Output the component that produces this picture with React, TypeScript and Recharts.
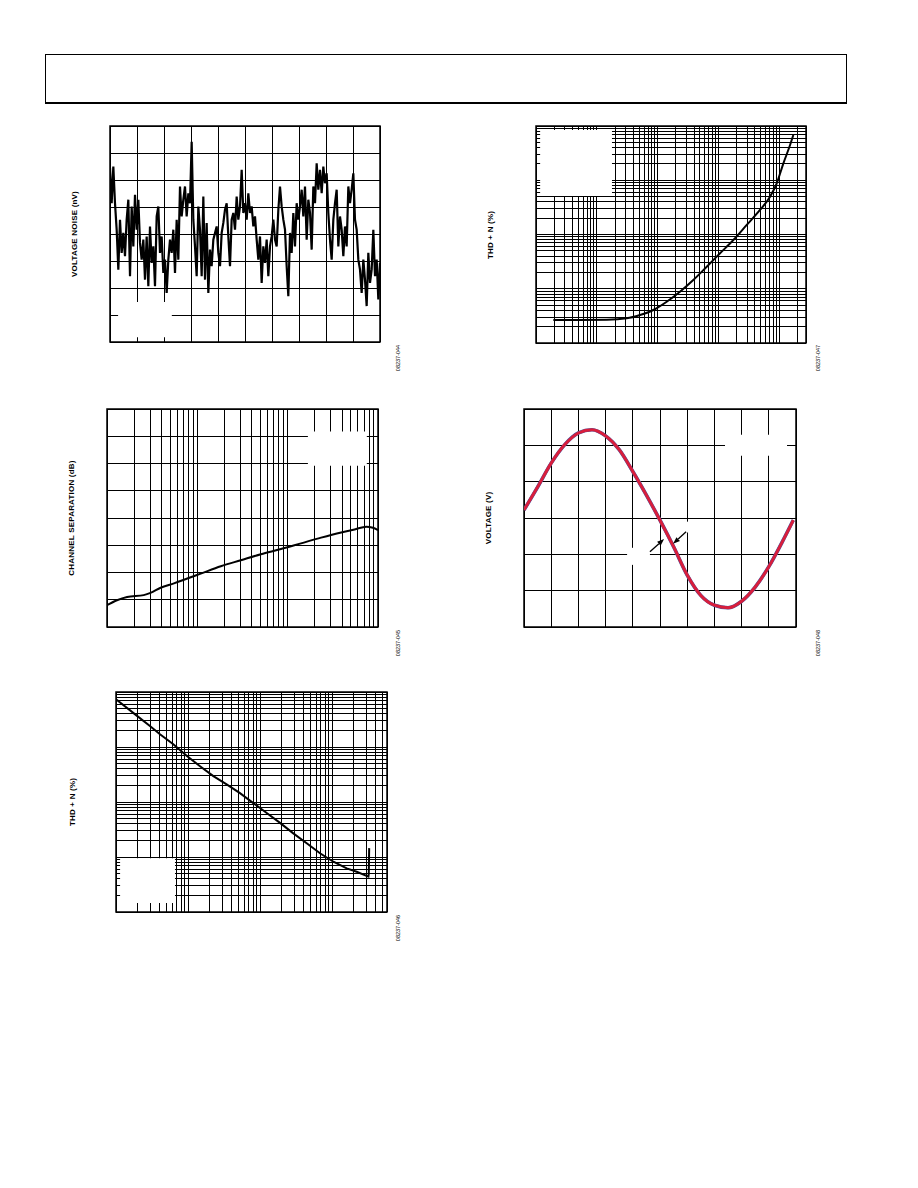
import {
  CartesianGrid,
  Line,
  LineChart,
  ReferenceArea,
  ReferenceLine,
  XAxis,
  YAxis,
} from "recharts";

// voltage noise trace (8 vertical divisions)
const noiseNv = [
  6.44, 5.14, 6.5, 5.14, 4.16, 2.68, 4.53, 3.3, 4.04, 3.18,
  4.53, 5.27, 2.44, 5.02, 3.54, 5.45, 4.16, 5.27, 3.67, 3.05,
  3.79, 2.31, 3.91, 2.07, 4.28, 2.93, 3.54, 2.07, 4.65, 5.02,
  3.3, 3.91, 2.56, 3.05, 1.82, 3.05, 3.79, 3.3, 4.16, 2.56,
  4.53, 3.05, 5.76, 4.65, 5.27, 5.76, 4.65, 5.51, 5.14, 7.42,
  4.53, 3.54, 2.44, 5.02, 4.16, 2.44, 5.39, 2.31, 4.41, 1.82,
  3.42, 2.81, 3.79, 4.04, 4.28, 3.3, 2.81, 4.04, 4.41, 4.9,
  5.14, 3.91, 2.81, 4.53, 4.78, 4.16, 5.39, 4.53, 5.02, 6.38,
  4.78, 5.14, 4.53, 5.51, 4.78, 5.02, 4.28, 4.65, 3.79, 3.05,
  3.91, 2.19, 3.54, 2.93, 3.79, 2.44, 3.54, 3.91, 4.53, 3.79,
  3.54, 4.9, 5.76, 5.02, 4.53, 4.16, 2.81, 1.7, 4.04, 3.3,
  4.78, 3.54, 5.14, 4.53, 5.02, 5.64, 4.65, 5.76, 3.79, 5.27,
  4.78, 3.42, 5.76, 5.14, 6.62, 5.64, 6.38, 5.51, 6.5, 5.88,
  6.25, 4.78, 3.79, 3.05, 4.53, 5.14, 5.64, 3.54, 4.65, 4.16,
  3.18, 4.28, 3.54, 5.76, 5.14, 5.64, 6.25, 4.53, 4.16, 3.05,
  2.68, 1.82, 3.05, 2.31, 1.33, 3.3, 2.19, 2.68, 4.16, 2.44,
  3.05, 1.58, 2.93,
];

// THD + N vs amplitude (upper right)
const thdAmpV = [0.00193, 0.005, 0.0146, 0.0311, 0.0515, 0.0853, 0.1416, 0.234, 0.388, 0.646, 1.069, 1.77, 2.94, 4.86, 7.11, 9.17, 11.8, 15.2, 17.2];
const thdAmpPct = [0.000265, 0.000265, 0.000268, 0.000285, 0.000328, 0.000406, 0.000577, 0.000883, 0.00145, 0.00255, 0.0045, 0.0079, 0.015, 0.0283, 0.0498, 0.0879, 0.205, 0.447, 0.683];

// channel separation vs frequency
const sepFreqHz = [10, 12.9, 16.7, 25.5, 30.3, 39.2, 55.1, 77.4, 109, 182, 303, 506, 843, 1406, 2344, 3917, 5508, 7413, 8790, 10000];
const sepDb = [68, 69.8, 71, 71.7, 72.5, 74.4, 76, 77.8, 79.6, 82.3, 84.5, 86.7, 88.6, 90.7, 92.8, 94.7, 95.8, 96.8, 96.4, 95.6];

// large signal sine response
const sineTimeUs = [0, 0.5, 1, 1.5, 2, 2.5, 3, 3.5, 4, 4.5, 5, 5.5, 6, 6.5, 7, 7.5, 8, 8.5, 9, 9.5, 9.9];
const sineVolts = [0.22, 0.85, 1.51, 2.02, 2.34, 2.43, 2.26, 1.88, 1.28, 0.63, -0.06, -0.79, -1.57, -2.13, -2.4, -2.47, -2.29, -1.9, -1.34, -0.65, -0.06];

// THD + N vs amplitude (lower left)
const thdLowAmpV = [0.001, 0.00194, 0.00296, 0.00408, 0.00625, 0.00957, 0.01469, 0.0225, 0.0344, 0.0527, 0.0807, 0.1239, 0.1897, 0.29, 0.445, 0.681, 1.045, 1.6, 2.2, 3.2, 3.24, 3.28];
const thdLowPct = [0.741, 0.372, 0.24, 0.17, 0.112, 0.0692, 0.0447, 0.0295, 0.0209, 0.0145, 0.00955, 0.00631, 0.00417, 0.00269, 0.00178, 0.00117, 0.00082, 0.00062, 0.00054, 0.00044, 0.0005, 0.00145];

const font = '"Liberation Sans", Arial, sans-serif';
const M = { top: 2, right: 2, bottom: 2, left: 2 };

function logTicks(min: number, max: number) {
  const out: number[] = [];
  for (let e = Math.floor(Math.log10(min)); e <= Math.ceil(Math.log10(max)); e++) {
    for (let k = 1; k <= 9; k++) {
      const v = Number((k * Math.pow(10, e)).toPrecision(6));
      if (v >= min * 0.9999 && v <= max * 1.0001) out.push(v);
    }
  }
  return out;
}

function linTicks(min: number, max: number, step: number) {
  const out: number[] = [];
  for (let v = min; v <= max + 1e-9; v += step) out.push(Number(v.toFixed(6)));
  return out;
}

const noTick = () => <g />;

function ArrowShape(props: any) {
  const { x1, y1, x2, y2 } = props;
  if ([x1, y1, x2, y2].some((v) => v === undefined)) return null;
  const ang = Math.atan2(y2 - y1, x2 - x1);
  const L = 7;
  const W = 2.6;
  const bx = x2 - L * Math.cos(ang);
  const by = y2 - L * Math.sin(ang);
  const px = -Math.sin(ang) * W;
  const py = Math.cos(ang) * W;
  return (
    <g>
      <line x1={x1} y1={y1} x2={bx} y2={by} stroke="#000" strokeWidth={1.3} />
      <polygon points={`${x2},${y2} ${bx + px},${by + py} ${bx - px},${by - py}`} fill="#000" />
    </g>
  );
}

function Axes(p: { xd: [number, number]; yd: [number, number]; xt: number[]; yt: number[]; xlog?: boolean; ylog?: boolean }) {
  return [
    <XAxis
      key="x"
      type="number"
      dataKey="x"
      scale={p.xlog ? "log" : "linear"}
      domain={p.xd}
      ticks={p.xt}
      interval={0}
      allowDataOverflow
      height={0}
      tick={noTick}
      tickLine={false}
      axisLine={false}
    />,
    <YAxis
      key="y"
      type="number"
      scale={p.ylog ? "log" : "linear"}
      domain={p.yd}
      ticks={p.yt}
      interval={0}
      allowDataOverflow
      width={0}
      tick={noTick}
      tickLine={false}
      axisLine={false}
    />,
    <CartesianGrid key="g" stroke="#000" strokeWidth={1} strokeOpacity={1} shapeRendering="crispEdges" />,
  ];
}

function Frame(p: { xd: [number, number]; yd: [number, number] }) {
  return (
    <ReferenceArea
      x1={p.xd[0]}
      x2={p.xd[1]}
      y1={p.yd[0]}
      y2={p.yd[1]}
      fill="#fff"
      fillOpacity={0}
      stroke="#000"
      strokeWidth={1.5}
    />
  );
}

function Blank(p: { x1: number; x2: number; y1: number; y2: number }) {
  return <ReferenceArea {...p} fill="#fff" fillOpacity={1} stroke="none" />;
}

function VText({ x, y, text, size = 8 }: { x: number; y: number; text: string; size?: number }) {
  return (
    <div
      style={{
        position: "absolute",
        left: x,
        top: y,
        transform: "translate(-50%, -50%) rotate(-90deg)",
        whiteSpace: "nowrap",
        fontFamily: font,
        fontSize: size,
        fontWeight: size > 6 ? "bold" : "normal",
        letterSpacing: size > 6 ? 0.2 : 0,
        color: "#000",
        lineHeight: 1,
      }}
    >
      {text}
    </div>
  );
}

function place(left: number, top: number): React.CSSProperties {
  return { position: "absolute", left, top };
}

export default function App() {
  const noiseData = noiseNv.map((v, i) => ({ x: (i * 10) / (noiseNv.length - 1), v }));
  const thdData = thdAmpV.map((x, i) => ({ x, v: thdAmpPct[i] }));
  const sepData = sepFreqHz.map((x, i) => ({ x, v: sepDb[i] }));
  const sineData = sineTimeUs.map((x, i) => ({ x, v: sineVolts[i] }));
  const thdLowData = thdLowAmpV.map((x, i) => ({ x, v: thdLowPct[i] }));

  const nX: [number, number] = [0, 10];
  const nY: [number, number] = [0, 8];
  const tX: [number, number] = [0.001, 27.8];
  const tY: [number, number] = [0.0001, 1];
  const sX: [number, number] = [10, 10000];
  const sY: [number, number] = [60, 140];
  const wX: [number, number] = [0, 10];
  const wY: [number, number] = [-3, 3];
  const lX: [number, number] = [0.001, 5.8];
  const lY: [number, number] = [0.0001, 1];

  return (
    <div style={{ position: "absolute", left: 0, top: 0, width: 918, height: 1188, background: "#fff" }}>
      <div
        style={{
          position: "absolute",
          left: 45,
          top: 54,
          width: 800,
          height: 47,
          borderTop: "1px solid #000",
          borderLeft: "1px solid #000",
          borderRight: "1px solid #000",
          borderBottom: "2px solid #000",
        }}
      />

      {/* voltage noise */}
      <div style={place(108, 124)}>
        <LineChart width={274} height={220} data={noiseData} margin={M}>
          {Axes({ xd: nX, yd: nY, xt: linTicks(0, 10, 1), yt: linTicks(0, 8, 1) })}
          <Blank x1={0.3} x2={2.29} y1={0.18} y2={1.48} />
          <Frame xd={nX} yd={nY} />
          <Line type="linear" dataKey="v" stroke="#000" strokeWidth={2.2} dot={false} isAnimationActive={false} />
        </LineChart>
      </div>
      <VText x={75} y={234} text="VOLTAGE NOISE (nV)" />
      <VText x={399} y={358} text="08237-044" size={5.5} />

      {/* THD + N upper right */}
      <div style={place(534, 124)}>
        <LineChart width={274} height={221} data={thdData} margin={M}>
          {Axes({ xd: tX, yd: tY, xt: logTicks(0.001, 27.8), yt: logTicks(0.0001, 1), xlog: true, ylog: true })}
          <Blank x1={0.00117} x2={0.0178} y1={0.0513} y2={0.84} />
          <Frame xd={tX} yd={tY} />
          <Line type="monotone" dataKey="v" stroke="#000" strokeWidth={2} dot={false} isAnimationActive={false} />
        </LineChart>
      </div>
      <VText x={491} y={235} text="THD + N (%)" />
      <VText x={819} y={358} text="08237-047" size={5.5} />

      {/* channel separation */}
      <div style={place(105, 407)}>
        <LineChart width={275} height={222} data={sepData} margin={M}>
          {Axes({ xd: sX, yd: sY, xt: logTicks(10, 10000), yt: linTicks(60, 140, 10), xlog: true })}
          <Blank x1={1675} x2={7516} y1={119.2} y2={131.7} />
          <Frame xd={sX} yd={sY} />
          <Line type="monotone" dataKey="v" stroke="#000" strokeWidth={2} dot={false} isAnimationActive={false} />
        </LineChart>
      </div>
      <VText x={72} y={518} text="CHANNEL SEPARATION (dB)" />
      <VText x={399} y={643} text="08237-045" size={5.5} />

      {/* large signal response */}
      <div style={place(522, 407)}>
        <LineChart width={276} height={222} data={sineData} margin={M}>
          {Axes({ xd: wX, yd: wY, xt: linTicks(0, 10, 1), yt: linTicks(-3, 3, 1) })}
          <Blank x1={7.39} x2={9.67} y1={1.71} y2={2.29} />
          <Blank x1={3.79} x2={4.63} y1={-1.29} y2={-0.82} />
          <Blank x1={5.85} x2={6.1} y1={-0.4} y2={-0.1} />
          <Frame xd={wX} yd={wY} />
          <Line type="monotone" dataKey="v" stroke="#3d5aa8" strokeWidth={3.6} dot={false} isAnimationActive={false} />
          <Line type="monotone" dataKey="v" stroke="#d81e3c" strokeWidth={3} dot={false} isAnimationActive={false} />
          <ReferenceLine segment={[{ x: 4.63, y: -0.93 }, { x: 5.15, y: -0.58 }]} shape={ArrowShape} />
          <ReferenceLine segment={[{ x: 5.96, y: -0.38 }, { x: 5.48, y: -0.71 }]} shape={ArrowShape} />
        </LineChart>
      </div>
      <VText x={489} y={518} text="VOLTAGE (V)" />
      <VText x={819} y={643} text="08237-048" size={5.5} />

      {/* THD + N lower left */}
      <div style={place(114, 690)}>
        <LineChart width={275} height={224} data={thdLowData} margin={M}>
          {Axes({ xd: lX, yd: lY, xt: logTicks(0.001, 5.8), yt: logTicks(0.0001, 1), xlog: true, ylog: true })}
          <Blank x1={0.00114} x2={0.00659} y1={0.000146} y2={0.00095} />
          <Frame xd={lX} yd={lY} />
          <Line type="linear" dataKey="v" stroke="#000" strokeWidth={2} dot={false} isAnimationActive={false} />
        </LineChart>
      </div>
      <VText x={73} y={802} text="THD + N (%)" />
      <VText x={399} y={928} text="08237-046" size={5.5} />
    </div>
  );
}
